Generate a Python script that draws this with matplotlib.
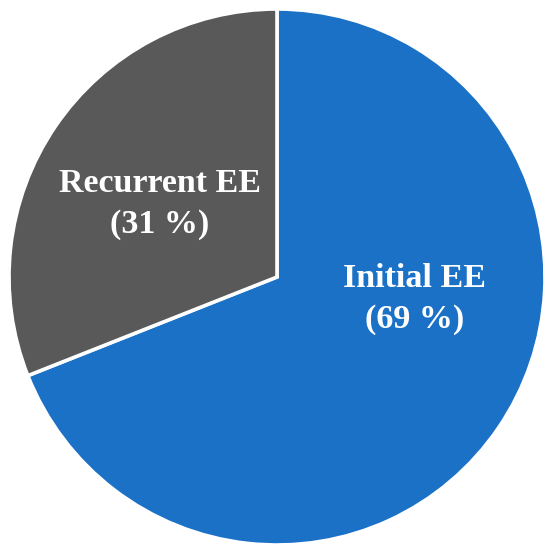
import matplotlib.pyplot as plt

labels = ["Initial EE", "Recurrent EE"]
shares = [69, 31]
colors = ["#1A71C6", "#595959"]

R = 268.0  # pie radius in pixels

fig = plt.figure(figsize=(5.5, 5.5), dpi=100)
ax = fig.add_axes([0, 0, 1, 1])
ax.pie(
    shares,
    colors=colors,
    startangle=90,
    counterclock=False,
    radius=1.0,
    wedgeprops={"edgecolor": "white", "linewidth": 2.6},
)
ax.set_xlim(-277 / R, 273 / R)
ax.set_ylim(-273 / R, 277 / R)
ax.set_aspect("equal")
ax.axis("off")

text_style = dict(color="white", fontsize=24.5, fontweight="bold",
                  family="Liberation Serif", ha="center", va="center",
                  linespacing=1.38)
label_pos = [((415 - 277) / R, (277 - 299) / R), ((160 - 277) / R, (277 - 204) / R)]
for name, share, (x, y) in zip(labels, shares, label_pos):
    ax.text(x, y, f"{name}\n({share} %)", **text_style)

fig.savefig("out.png", dpi=100, facecolor="white")
